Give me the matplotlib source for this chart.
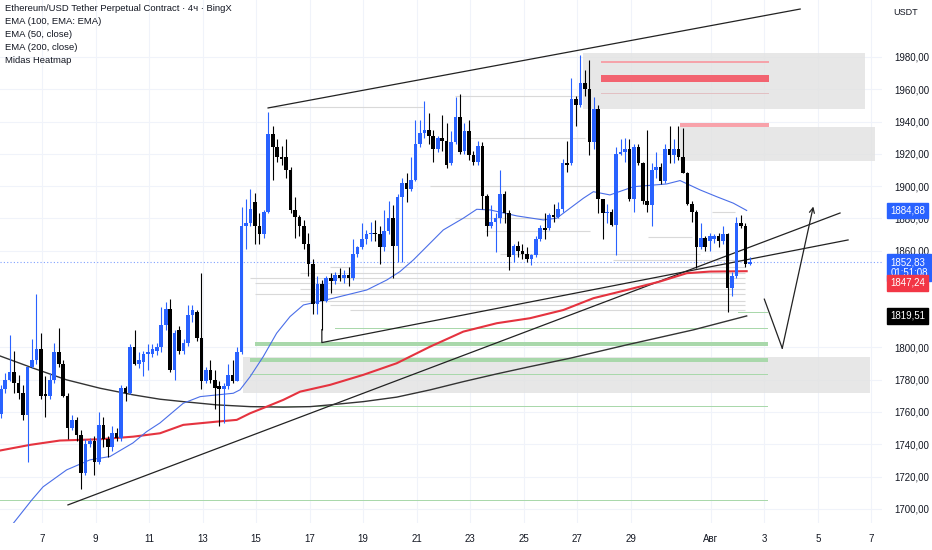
import matplotlib

matplotlib.use("Agg")

import matplotlib.pyplot as plt
import numpy as np

plt.rcParams["font.family"] = ["Liberation Sans", "DejaVu Sans"]

# x axis is in days of July (Aug 1 = 32); 4h candles
T0 = 5 + 11 / 24
opens = [
    1759, 1774, 1780, 1785, 1778, 1772, 1758, 1788, 1792, 1799,
    1771, 1770, 1780, 1797, 1790, 1770, 1750, 1755, 1746, 1722,
    1740, 1742, 1729, 1752, 1743, 1738, 1747, 1744, 1775, 1772,
    1800, 1790, 1791, 1796, 1796, 1798, 1800, 1814, 1824, 1786,
    1811, 1798, 1803, 1820, 1822, 1806, 1779, 1786, 1780, 1776,
    1774, 1776, 1783, 1779, 1797, 1875, 1877, 1890, 1875, 1870,
    1884, 1932, 1924, 1918, 1918, 1910, 1885, 1881, 1875, 1864,
    1852, 1827, 1839, 1829, 1843, 1841, 1845, 1843, 1845, 1843,
    1858, 1862, 1867, 1870, 1871, 1870, 1862, 1872, 1880, 1863,
    1893, 1902, 1898, 1904, 1926, 1933, 1935, 1931, 1923, 1930,
    1928, 1914, 1927, 1943, 1922, 1934, 1919, 1915, 1925, 1894,
    1875, 1878, 1880, 1895, 1883, 1857, 1863, 1860, 1858, 1855,
    1857, 1867, 1874, 1874, 1882, 1881, 1886, 1914, 1914, 1954,
    1950, 1964, 1960, 1927, 1948, 1892, 1883, 1884, 1876, 1920,
    1921, 1923, 1892, 1924, 1914, 1891, 1888, 1910, 1912, 1903,
    1923, 1919, 1923, 1918, 1908, 1889, 1884, 1862, 1868, 1866,
    1867, 1869, 1866, 1870, 1837, 1844, 1877, 1875, 1852,
]
highs = [
    1777, 1784, 1808, 1798, 1783, 1777, 1788, 1805, 1833, 1809,
    1782, 1784, 1803, 1812, 1792, 1772, 1758, 1757, 1749, 1743,
    1744, 1745, 1760, 1757, 1745, 1751, 1750, 1777, 1776, 1802,
    1811, 1797, 1798, 1802, 1802, 1803, 1825, 1828, 1830, 1811,
    1813, 1805, 1826, 1826, 1823, 1846, 1788, 1792, 1786, 1779,
    1778, 1790, 1792, 1800, 1887, 1892, 1898, 1896, 1883, 1885,
    1946, 1937, 1929, 1925, 1929, 1912, 1893, 1882, 1879, 1871,
    1855, 1844, 1842, 1844, 1846, 1847, 1849, 1848, 1850, 1867,
    1863, 1877, 1873, 1878, 1879, 1875, 1885, 1891, 1888, 1895,
    1905, 1908, 1918, 1941, 1941, 1953, 1945, 1935, 1931, 1944,
    1939, 1934, 1955, 1957, 1939, 1941, 1922, 1928, 1927, 1895,
    1888, 1883, 1910, 1897, 1885, 1864, 1866, 1864, 1862, 1858,
    1869, 1876, 1883, 1883, 1889, 1890, 1917, 1928, 1967, 1956,
    1981, 1972, 1978, 1955, 1950, 1892, 1889, 1886, 1924, 1929,
    1930, 1929, 1926, 1926, 1915, 1935, 1914, 1921, 1914, 1926,
    1937, 1929, 1937, 1936, 1909, 1891, 1885, 1877, 1869, 1871,
    1870, 1871, 1875, 1871, 1847, 1881, 1882, 1877, 1856,
]
lows = [
    1756, 1772, 1779, 1772, 1768, 1755, 1729, 1787, 1790, 1768,
    1757, 1768, 1778, 1788, 1769, 1743, 1749, 1742, 1712, 1721,
    1738, 1721, 1728, 1738, 1732, 1736, 1742, 1742, 1767, 1771,
    1789, 1787, 1782, 1786, 1794, 1795, 1797, 1811, 1785, 1780,
    1796, 1796, 1801, 1816, 1804, 1774, 1778, 1778, 1762, 1751,
    1753, 1774, 1778, 1779, 1796, 1861, 1875, 1864, 1864, 1868,
    1883, 1904, 1915, 1913, 1905, 1883, 1868, 1869, 1861, 1844,
    1821, 1821, 1811, 1828, 1834, 1839, 1841, 1840, 1838, 1842,
    1856, 1861, 1864, 1866, 1866, 1852, 1860, 1870, 1843, 1853,
    1853, 1890, 1897, 1903, 1924, 1930, 1926, 1915, 1921, 1922,
    1911, 1913, 1926, 1920, 1920, 1916, 1913, 1913, 1886, 1869,
    1874, 1859, 1877, 1877, 1848, 1853, 1856, 1855, 1853, 1851,
    1856, 1866, 1867, 1873, 1878, 1880, 1884, 1909, 1913, 1937,
    1949, 1956, 1919, 1923, 1883, 1867, 1877, 1875, 1857, 1919,
    1915, 1891, 1884, 1913, 1889, 1884, 1875, 1905, 1901, 1902,
    1914, 1914, 1916, 1908, 1888, 1878, 1849, 1861, 1860, 1860,
    1865, 1862, 1864, 1822, 1832, 1843, 1874, 1850, 1851,
]
closes = [
    1774, 1780, 1785, 1778, 1772, 1758, 1788, 1792, 1799, 1770,
    1770, 1780, 1797, 1790, 1770, 1750, 1755, 1746, 1722, 1740,
    1742, 1729, 1752, 1743, 1738, 1747, 1744, 1775, 1772, 1800,
    1790, 1792, 1796, 1797, 1799, 1800, 1814, 1824, 1786, 1809,
    1798, 1803, 1820, 1823, 1806, 1779, 1786, 1780, 1775, 1774,
    1776, 1783, 1779, 1797, 1875, 1877, 1886, 1875, 1870, 1884,
    1932, 1924, 1918, 1917, 1910, 1885, 1881, 1875, 1864, 1852,
    1827, 1839, 1829, 1843, 1841, 1845, 1843, 1845, 1843, 1858,
    1862, 1867, 1870, 1871, 1870, 1862, 1872, 1880, 1863, 1893,
    1902, 1898, 1904, 1926, 1933, 1935, 1931, 1923, 1930, 1928,
    1913, 1927, 1943, 1921, 1934, 1919, 1915, 1925, 1894, 1875,
    1878, 1880, 1895, 1883, 1856, 1863, 1860, 1858, 1855, 1857,
    1867, 1874, 1873, 1882, 1881, 1886, 1914, 1913, 1954, 1950,
    1964, 1960, 1927, 1948, 1892, 1883, 1884, 1876, 1920, 1921,
    1923, 1892, 1924, 1914, 1891, 1888, 1910, 1912, 1903, 1923,
    1919, 1923, 1918, 1908, 1889, 1884, 1862, 1868, 1862, 1869,
    1869, 1866, 1870, 1837, 1844, 1877, 1875, 1852, 1852.83,
]

# indicator lines (day, price)
ema50_t = [5.88, 6.62, 7.04, 7.92, 8.79, 9.54, 10.40, 10.91, 11.41, 12.28, 12.91,
           14.15, 14.40, 14.78, 15.27, 15.77, 16.27, 16.77, 17.89, 19.14, 19.89,
           20.38, 20.88, 21.38, 22.00, 22.75, 23.25, 23.75, 24.75, 25.74, 26.24,
           26.74, 27.24, 27.61, 28.23, 29.11, 30.35, 30.85, 31.60, 32.22, 32.84, 33.34]
ema50_v = [1690.0, 1705.5, 1713.6, 1724.1, 1730.3, 1732.4, 1740.8, 1747.8, 1753.2,
           1765.4, 1769.5, 1771.6, 1773.7, 1781.9, 1794.3, 1808.8, 1819.1, 1826.3,
           1830.5, 1835.6, 1841.8, 1847.0, 1854.2, 1862.5, 1872.8, 1880.1, 1885.6,
           1885.2, 1881.5, 1879.0, 1880.1, 1886.3, 1892.5, 1896.5, 1894.5, 1899.6,
           1901.3, 1903.4, 1897.6, 1893.4, 1889.4, 1884.88]
ema200_t = [5.43, 6.55, 7.67, 9.17, 10.41, 11.41, 12.28, 13.53, 14.28, 14.78, 15.40,
            16.02, 16.65, 17.77, 19.01, 20.26, 21.51, 22.75, 24.00, 25.24, 26.49,
            27.61, 28.86, 30.09, 31.10, 31.96, 33.34]
ema200_v = [1736.1, 1739.6, 1742.3, 1743.1, 1744.7, 1746.8, 1752.0, 1754.0, 1755.1,
            1759.2, 1763.3, 1767.5, 1772.6, 1776.8, 1783.0, 1790.2, 1800.5, 1809.8,
            1815.0, 1818.1, 1823.2, 1830.5, 1835.6, 1840.8, 1846.0, 1847.0, 1847.24]
ema100_t = [5.43, 6.68, 7.92, 9.17, 10.41, 11.41, 12.28, 13.53, 14.78, 16.02, 17.02,
            17.77, 19.01, 20.26, 21.51, 22.75, 24.00, 25.24, 26.74, 28.86, 31.35, 33.34]
ema100_v = [1794.7, 1787.1, 1779.9, 1774.7, 1770.6, 1767.9, 1766.4, 1764.4, 1763.3,
            1763.0, 1763.3, 1764.4, 1766.4, 1769.2, 1773.7, 1778.8, 1783.6, 1788.1,
            1793.3, 1801.6, 1810.9, 1819.51]

# Midas heatmap zones: start day, end day, low, high
zone_start = [27.22, 30.85, 14.51]
zone_end = [37.77, 38.14, 37.95]
zone_low = [1947.8, 1915.8, 1772.0]
zone_high = [1982.7, 1936.4, 1794.3]

red_start = [27.90, 27.90, 27.90, 30.85]
red_end = [34.18, 34.18, 34.18, 34.18]
red_low = [1964.7, 1976.2, 1957.2, 1936.8]
red_high = [1968.8, 1977.3, 1957.8, 1938.9]
red_colors = ["#f26370", "#f5a3aa", "#e2c0c3", "#f8a2aa"]

green_start = [33.02, 17.95, 14.96, 14.78, 14.78, 14.78, 5.43]
green_low = [1821.2, 1811.5, 1801.0, 1791.2, 1782.6, 1762.9, 1704.6]
green_high = [1822.0, 1812.3, 1803.5, 1793.3, 1783.4, 1763.7, 1705.4]
green_end = 34.15

gray_levels = [1949, 1956, 1930, 1900, 1884, 1868.7, 1880, 1872, 1858, 1854,
               1850, 1846, 1843, 1840, 1836, 1833, 1829, 1826, 1823]
gray_start = [15.45, 22.44, 23.00, 21.50, 32.05, 29.65, 22.44, 23.56, 24.12, 28.35,
              17.77, 16.64, 14.78, 14.96, 16.64, 14.96, 16.64, 17.77, 18.51]
gray_end = [21.24, 27.11, 27.30, 27.86, 32.91, 31.30, 26.36, 27.49, 31.60, 33.28,
            33.28, 33.28, 33.28, 33.28, 33.28, 33.28, 33.28, 33.28, 33.28]

# drawings (day, price)
upper_line = ([15.45, 35.34], [1948.4, 2009.7])
mid_line = ([17.46, 17.46, 37.13], [1811, 1803, 1866.6])
low_line = ([7.97, 36.83], [1702.4, 1883.3])
path_t = [34.0, 34.67, 35.83]
path_v = [1829.9, 1799.5, 1887.3]

last_price = 1852.83
tick_days = [7, 9, 11, 13, 15, 17, 19, 21, 23, 25, 27, 29, 32, 34, 36, 38]
tick_names = ["7", "9", "11", "13", "15", "17", "19", "21", "23", "25", "27", "29",
              "Авг", "3", "5", "7"]
price_ticks = [1700, 1720, 1740, 1760, 1780, 1800, 1860, 1880, 1900, 1920, 1940, 1960, 1980]

BLUE = "#2962ff"
BLACK = "#000000"
TXT = "#131722"

fig = plt.figure(figsize=(9.32, 5.5), dpi=100)
ax = fig.add_axes([0, 0.05, 0.9464, 0.95])
ax.set_xlim(5.43, 38.40)
ax.set_ylim(1691.5, 2015.3)

for x0, x1, lo, hi in zip(zone_start, zone_end, zone_low, zone_high):
    ax.fill_between([x0, x1], lo, hi, color="#e3e3e3", alpha=0.85, lw=0, zorder=1)
for x0, x1, lo, hi, c in zip(red_start, red_end, red_low, red_high, red_colors):
    ax.fill_between([x0, x1], lo, hi, color=c, lw=0, zorder=2)
for x0, lo, hi in zip(green_start, green_low, green_high):
    ax.fill_between([x0, green_end], lo, hi, color="#a9d8ab", lw=0, zorder=2)
ax.hlines(gray_levels, gray_start, gray_end, colors="#d9d9d9", lw=0.8, zorder=1.5)

ax.plot(*upper_line, color="#222222", lw=0.9, zorder=3)
ax.plot(*mid_line, color="#222222", lw=0.9, zorder=3)
ax.plot(*low_line, color="#222222", lw=0.9, zorder=3)
ax.plot(path_t[:2], path_v[:2], color="#222222", lw=0.9, zorder=3)
ax.annotate("", xy=(path_t[2], path_v[2]), xytext=(path_t[1], path_v[1]),
            arrowprops=dict(arrowstyle="->", color="#222222", lw=0.9,
                            shrinkA=0, shrinkB=0, mutation_scale=9), zorder=3)

ax.plot(ema100_t, ema100_v, color="#333333", lw=1.0, zorder=3)
ax.plot(ema200_t, ema200_v, color="#e5333f", lw=1.5, zorder=3)
ax.plot(ema50_t, ema50_v, color="#4a6ee8", lw=0.8, zorder=3)

o = np.array(opens, dtype=float)
h = np.array(highs, dtype=float)
lo_ = np.array(lows, dtype=float)
c = np.array(closes, dtype=float)
t = T0 + np.arange(len(o)) / 6
cols = np.where(c >= o, BLUE, BLACK)
ax.vlines(t, lo_, h, colors=cols, lw=0.8, zorder=4)
ax.bar(t, np.maximum(np.abs(c - o), 0.8), bottom=np.minimum(o, c), width=0.135,
       color=cols, lw=0, zorder=5)

ax.axhline(last_price, color=BLUE, lw=0.8, ls=(0, (1, 2)), alpha=0.6, zorder=2)

ax.set_xticks(tick_days)
ax.set_xticklabels(tick_names)
ax.set_yticks(price_ticks)
ax.set_yticklabels([f"{p},00" for p in price_ticks])
ax.yaxis.tick_right()
ax.tick_params(axis="both", length=0, labelsize=7, colors=TXT)
ax.tick_params(axis="y", pad=9)
ax.tick_params(axis="x", pad=8)
ax.grid(True, color="#f0f3fa", lw=0.8)
ax.set_axisbelow(True)
for s in ax.spines.values():
    s.set_visible(False)

label_style = dict(xycoords=("axes fraction", "data"), textcoords="offset points",
                   fontsize=7, color="white", va="center", ha="left", zorder=10,
                   annotation_clip=False)
ax.annotate("1884,88", xy=(1, 1884.88), xytext=(6, 0),
            bbox=dict(boxstyle="square,pad=0.3", fc=BLUE, ec=BLUE), **label_style)
ax.annotate("1852,83\n01:51:08", xy=(1, last_price), xytext=(6, -4),
            bbox=dict(boxstyle="square,pad=0.3", fc=BLUE, ec=BLUE),
            linespacing=1.15, **label_style)
ax.annotate("1847,24", xy=(1, 1847.24), xytext=(6, -8.5),
            bbox=dict(boxstyle="square,pad=0.3", fc="#f23645", ec="#f23645"), **label_style)
ax.annotate("1819,51", xy=(1, 1819.51), xytext=(6, 0),
            bbox=dict(boxstyle="square,pad=0.3", fc=BLACK, ec=BLACK), **label_style)

fig.text(0.972, 0.978, "USDT", fontsize=6.5, color=TXT, ha="center", va="center")
legend_lines = [
    "Ethereum/USD Tether Perpetual Contract · 4ч · BingX",
    "EMA (100, EMA: EMA)",
    "EMA (50, close)",
    "EMA (200, close)",
    "Midas Heatmap",
]
for i, line in enumerate(legend_lines):
    fig.text(0.005, 0.984 - i * 0.0235, line, fontsize=6.8, color=TXT,
             ha="left", va="center")

fig.savefig("out.png", dpi=100, facecolor="white")
